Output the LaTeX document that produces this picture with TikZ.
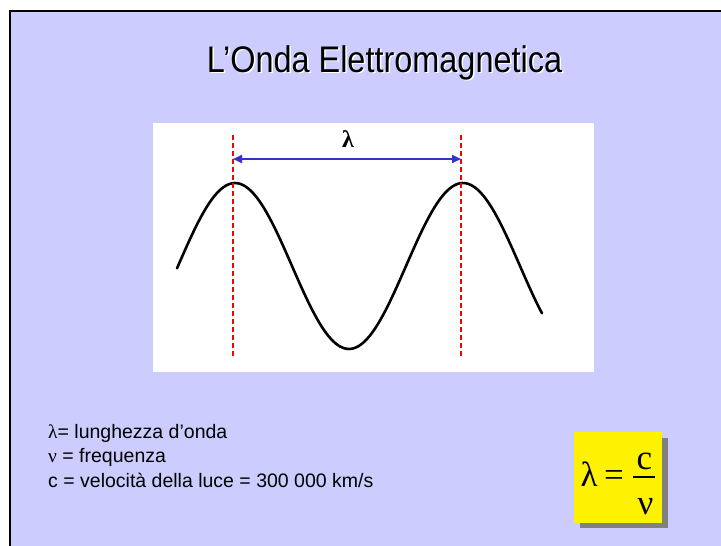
\documentclass[tikz,border=0pt]{standalone}
\usepackage{fontspec}
\usepackage{graphicx}
\setmainfont{Liberation Sans}
\newfontfamily\serif{Liberation Serif}
\usetikzlibrary{arrows.meta}
\definecolor{slidebg}{RGB}{204,204,255}
\definecolor{arrowblue}{RGB}{51,51,204}
\definecolor{shadowgray}{RGB}{128,128,128}
\tikzset{
  guide/.style={draw=red, line width=1.8pt, dash pattern=on 5pt off 3pt},
  wave/.style={draw=black, line width=2.6pt, line cap=round},
  span/.style={draw=arrowblue, line width=2.2pt, {Triangle[length=9pt,width=8pt]}-{Triangle[length=9pt,width=8pt]}},
  legend/.style={anchor=base west, inner sep=0pt, font=\fontsize{19.5}{22}\selectfont},
  formula/.style={anchor=base, inner sep=0pt, font=\serif\fontsize{35}{38}\selectfont},
}
\begin{document}
\begin{tikzpicture}[x=1pt,y=-1pt]
\useasboundingbox (0,0) rectangle (721,546);
% slide background with top/left border
\fill[white] (0,0) rectangle (721,546);
\fill[slidebg] (10,11) rectangle (721,546);
\draw[black, line width=2pt] (10,546) -- (10,11) -- (721,11);
% title with light shadow
\node[anchor=base, inner sep=0pt, text=white, font=\fontsize{37}{40}\selectfont] (titleshadow) at (386,73.5) {\scalebox{0.877}[1]{L’Onda Elettromagnetica}};
\node[anchor=base, inner sep=0pt, font=\fontsize{37}{40}\selectfont] (title) at (384.5,72) {\scalebox{0.877}[1]{L’Onda Elettromagnetica}};
% picture panel
\fill[white] (153,123) rectangle (594,372);
% wave
\draw[wave, domain=177:542, samples=120, smooth] plot (\x, {266-83*cos((\x-463)*1.578947)});
% guides
\coordinate (g1top) at (233,135);
\coordinate (g1bot) at (233,357);
\coordinate (g2top) at (461,135);
\coordinate (g2bot) at (461,357);
\draw[guide] (g1top) -- (g1bot);
\draw[guide] (g2top) -- (g2bot);
% wavelength arrow
\coordinate (la) at (233,159);
\coordinate (lb) at (461,159);
\draw[span] (la) -- (lb);
\node[anchor=base, inner sep=0pt, font=\serif\bfseries\fontsize{24}{26}\selectfont] (lamlabel) at (348,147) {λ};
% legend
\node[legend] (l1) at (48,438) {{\serif λ}= lunghezza d’onda};
\node[legend] (l2) at (48,462) {{\serif ν} = frequenza};
\node[legend] (l3) at (48,487) {c = velocità della luce = 300 000 km/s};
% formula box
\fill[shadowgray] (580,438) rectangle (668,528);
\fill[yellow] (574,432) rectangle (662,523);
\node[formula] (flam) at (589,486) {λ};
\node[formula] (feq) at (614,486) {=};
\node[formula] (fc) at (644.5,469) {c};
\node[formula] (fnu) at (645.5,514) {ν};
\draw[black, line width=1.5pt] (633,477) -- (655,477);
\end{tikzpicture}
\end{document}
